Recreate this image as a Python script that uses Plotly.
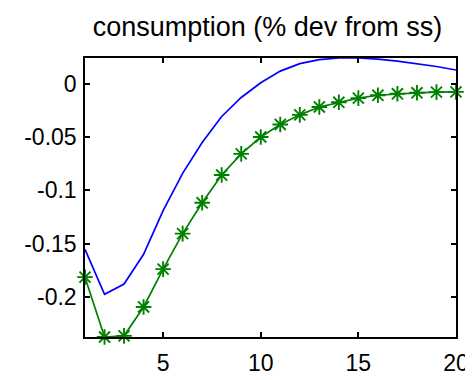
import plotly.graph_objects as go

periods = list(range(1, 21))
blue_series = [-0.1554, -0.1976, -0.1880, -0.1600, -0.1190, -0.0840, -0.0550, -0.0306,
               -0.0128, 0.0010, 0.0120, 0.0190, 0.0228, 0.0243, 0.0243, 0.0232,
               0.0213, 0.0190, 0.0163, 0.0130]
green_series = [-0.1815, -0.2377, -0.2366, -0.2095, -0.1740, -0.1406, -0.1117, -0.0856,
                -0.0657, -0.0499, -0.0381, -0.0291, -0.0217, -0.0173, -0.0134, -0.0107,
                -0.0093, -0.0084, -0.0077, -0.0075]
x_tick_vals = [5, 10, 15, 20]
x_tick_text = ["5", "10", "15", "20"]
y_tick_vals = [0, -0.05, -0.1, -0.15, -0.2]
y_tick_text = ["0", "-0.05", "-0.1", "-0.15", "-0.2"]
title_text = "consumption (% dev from ss)"

fig = go.Figure()
fig.add_trace(go.Scatter(x=periods, y=blue_series, mode="lines",
                         line=dict(color="#0000ff", width=1.7)))
fig.add_trace(go.Scatter(x=periods, y=green_series, mode="lines+markers",
                         line=dict(color="#008000", width=1.7),
                         marker=dict(symbol="asterisk-open", size=13,
                                     line=dict(color="#008000", width=1.9)),
                         cliponaxis=False))

axis_common = dict(showline=True, linecolor="black", linewidth=1.5, mirror="ticks",
                   ticks="inside", ticklen=5, tickcolor="black", tickwidth=1.5,
                   showgrid=False, zeroline=False,
                   tickfont=dict(family="Liberation Sans, Arial, sans-serif", size=23, color="black"))

fig.update_layout(
    width=473, height=380,
    margin=dict(l=77, r=13, t=50, b=36),
    paper_bgcolor="white", plot_bgcolor="white",
    showlegend=False,
    title=dict(text=title_text, x=259.5 / 473, xanchor="center",
               y=1 - 19 / 380, yanchor="middle",
               font=dict(family="Liberation Sans, Arial, sans-serif", size=27, color="black")),
    xaxis=dict(range=[1, 20], tickvals=x_tick_vals, ticktext=x_tick_text,
               ticklabelstandoff=5, **axis_common),
    yaxis=dict(range=[-0.2377, 0.0243], tickvals=y_tick_vals, ticktext=y_tick_text,
               ticklabelstandoff=2, **axis_common),
)

fig.write_html("out.html")
